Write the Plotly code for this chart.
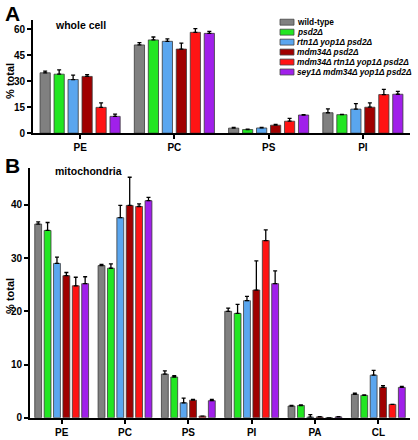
import plotly.graph_objects as go

W, H = 418, 440

categories_A = ["PE", "PC", "PS", "PI"]
categories_B = ["PE", "PC", "PS", "PI", "PA", "CL"]

series_names = [
    "<b>wild-type</b>",
    "<b><i>psd2Δ</i></b>",
    "<b><i>rtn1Δ yop1Δ psd2Δ</i></b>",
    "<b><i>mdm34Δ psd2Δ</i></b>",
    "<b><i>mdm34Δ rtn1Δ yop1Δ psd2Δ</i></b>",
    "<b><i>sey1Δ mdm34Δ yop1Δ psd2Δ</i></b>",
]
series_colors = ["#808080", "#22e622", "#5aa6ef", "#a00000", "#ff1414", "#a020ea"]

# Panel A: whole cell (% total)
wt_A = [34.9, 51.0, 2.9, 11.8]
psd2_A = [34.1, 53.9, 2.1, 10.7]
rtn1_A = [31.0, 53.1, 3.0, 13.9]
mdm34_A = [32.8, 48.6, 4.6, 15.0]
mdm34rtn1_A = [14.9, 58.3, 6.9, 22.3]
sey1_A = [9.7, 57.7, 10.5, 22.5]
wt_A_err = [1.0, 1.4, 0.5, 2.2]
psd2_A_err = [2.5, 1.7, 0.2, 0.2]
rtn1_A_err = [2.5, 1.4, 0.4, 3.2]
mdm34_A_err = [1.1, 3.4, 0.5, 2.5]
mdm34rtn1_A_err = [2.6, 2.1, 1.7, 3.0]
sey1_A_err = [1.3, 1.2, 0.2, 1.7]

# Panel B: mitochondria (% total)
wt_B = [36.4, 28.6, 8.2, 20.0, 2.2, 4.4]
psd2_B = [35.2, 28.1, 7.65, 19.6, 2.3, 4.2]
rtn1_B = [29.0, 37.6, 2.8, 22.0, 0.1, 8.0]
mdm34_B = [26.7, 39.9, 3.3, 24.0, 0.15, 5.7]
mdm34rtn1_B = [24.8, 39.7, 0.3, 33.3, 0.0, 2.5]
sey1_B = [25.2, 40.8, 3.2, 25.2, 0.15, 5.7]
wt_B_err = [0.4, 0.2, 0.6, 0.6, 0.1, 0.2]
psd2_B_err = [1.5, 0.8, 0.25, 1.7, 0.1, 0.1]
rtn1_B_err = [1.2, 2.3, 0.9, 0.8, 0.5, 0.9]
mdm34_B_err = [0.6, 5.3, 0.15, 5.5, 0.05, 0.35]
mdm34rtn1_B_err = [1.6, 0.5, 0.0, 2.0, 0.0, 0.0]
sey1_B_err = [1.3, 0.6, 0.25, 2.4, 0.05, 0.2]

A_vals = [wt_A, psd2_A, rtn1_A, mdm34_A, mdm34rtn1_A, sey1_A]
A_errs = [wt_A_err, psd2_A_err, rtn1_A_err, mdm34_A_err, mdm34rtn1_A_err, sey1_A_err]
B_vals = [wt_B, psd2_B, rtn1_B, mdm34_B, mdm34rtn1_B, sey1_B]
B_errs = [wt_B_err, psd2_B_err, rtn1_B_err, mdm34_B_err, mdm34rtn1_B_err, sey1_B_err]

FONT = "Liberation Sans, Arial, Helvetica, sans-serif"

def px(x):
    return x / W

def py(y):
    return 1 - y / H

fig = go.Figure()
for i in range(6):
    fig.add_trace(go.Bar(
        x=categories_A, y=A_vals[i], name=series_names[i], showlegend=False,
        marker=dict(color=series_colors[i], line=dict(color="#3a3a3a", width=0.8)),
        error_y=dict(type="data", array=A_errs[i], arrayminus=[0] * len(A_errs[i]),
                     symmetric=False, color="black", thickness=1.3, width=2),
        xaxis="x", yaxis="y",
    ))
for i in range(6):
    fig.add_trace(go.Bar(
        x=categories_B, y=B_vals[i], name=series_names[i], showlegend=False,
        marker=dict(color=series_colors[i], line=dict(color="#3a3a3a", width=0.8)),
        error_y=dict(type="data", array=B_errs[i], arrayminus=[0] * len(B_errs[i]),
                     symmetric=False, color="black", thickness=1.3, width=2),
        xaxis="x2", yaxis="y2",
    ))

tickfont = dict(family=FONT, size=10, color="black", weight="bold")
axis_common = dict(showline=True, linecolor="black", linewidth=1.8, ticks="outside",
                   ticklen=4, tickwidth=1.5, tickcolor="black", showgrid=False,
                   zeroline=False, tickfont=tickfont)

fig.update_layout(
    width=W, height=H,
    margin=dict(l=0, r=0, t=0, b=0),
    paper_bgcolor="white", plot_bgcolor="white",
    barmode="group", bargap=0.11, bargroupgap=0.27,
    showlegend=False,
    xaxis=dict(domain=[px(33), px(410)], anchor="y", **axis_common),
    yaxis=dict(domain=[py(135), py(20.5)], anchor="x", range=[0, 65.3],
               tickvals=[0, 15, 30, 45, 60], **axis_common),
    xaxis2=dict(domain=[px(30), px(410)], anchor="y2", **axis_common),
    yaxis2=dict(domain=[py(423.5), py(170)], anchor="x2", range=[0, 47],
                tickvals=[0, 10, 20, 30, 40], **axis_common),
)

annotations = [
    dict(text="<b>A</b>", x=px(3), y=py(14), xanchor="left", yanchor="middle",
         font=dict(family=FONT, size=21, color="black")),
    dict(text="<b>B</b>", x=px(3), y=py(168), xanchor="left", yanchor="middle",
         font=dict(family=FONT, size=21, color="black")),
    dict(text="<b>whole cell</b>", x=px(53), y=py(25), xanchor="left", yanchor="middle",
         font=dict(family=FONT, size=10.5, color="black")),
    dict(text="<b>mitochondria</b>", x=px(53), y=py(173), xanchor="left", yanchor="middle",
         font=dict(family=FONT, size=10.5, color="black")),
    dict(text="<b>% total</b>", x=px(10), y=py(82), xanchor="center", yanchor="middle",
         textangle=-90, font=dict(family=FONT, size=11, color="black")),
    dict(text="<b>% total</b>", x=px(10), y=py(300), xanchor="center", yanchor="middle",
         textangle=-90, font=dict(family=FONT, size=11, color="black")),
]
shapes = []
leg_y0 = 22.5
leg_dy = 10.1
for i in range(6):
    yc = leg_y0 + i * leg_dy
    shapes.append(dict(type="rect", xref="paper", yref="paper",
                       x0=px(280), x1=px(294), y0=py(yc + 3), y1=py(yc - 3),
                       fillcolor=series_colors[i], line=dict(color="#444", width=0.8)))
    annotations.append(dict(text=series_names[i], x=px(295), y=py(yc), xanchor="left",
                            yanchor="middle", font=dict(family=FONT, size=8.3, color="black")))
for a in annotations:
    a.setdefault("xref", "paper")
    a.setdefault("yref", "paper")
    a.setdefault("showarrow", False)
fig.update_layout(annotations=annotations, shapes=shapes)

fig.write_html("out.html", config={"displayModeBar": False},
               post_script="document.body.style.margin='0';document.body.style.padding='0';")
